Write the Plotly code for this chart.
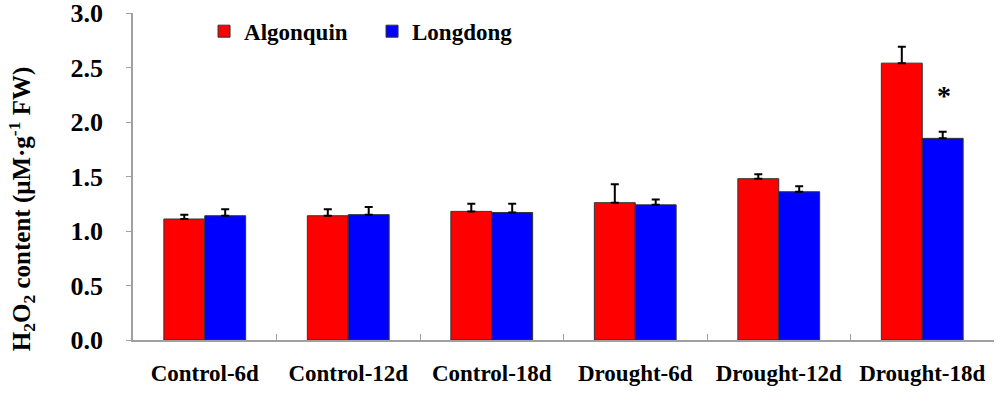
import plotly.graph_objects as go

categories = ["Control-6d", "Control-12d", "Control-18d", "Drought-6d", "Drought-12d", "Drought-18d"]
algonquin = [1.11, 1.14, 1.18, 1.26, 1.48, 2.54]
algonquin_err = [0.04, 0.06, 0.07, 0.17, 0.04, 0.15]
longdong = [1.14, 1.15, 1.17, 1.24, 1.36, 1.85]
longdong_err = [0.06, 0.07, 0.08, 0.05, 0.05, 0.06]
series_names = ["Algonquin", "Longdong"]
y_ticks = [0.0, 0.5, 1.0, 1.5, 2.0, 2.5, 3.0]
y_title = "H<sub>2</sub>O<sub>2</sub> content (μM·g<sup>-1</sup> FW)"
star_label = "*"
star_y = 2.24

FONT = "Liberation Serif"

fig = go.Figure()
for name, vals, errs, color in [
    (series_names[0], algonquin, algonquin_err, "#ff0000"),
    (series_names[1], longdong, longdong_err, "#0000ff"),
]:
    fig.add_trace(go.Bar(
        x=categories, y=vals, name=name,
        marker=dict(color=color, line=dict(color="#333333", width=1)),
        error_y=dict(type="data", array=errs, arrayminus=[0] * len(errs),
                     symmetric=False, color="black", thickness=2, width=4),
    ))

fig.add_annotation(x=categories[-1], y=star_y, text=star_label,
                   xref="x", yref="y", showarrow=False, xshift=22,
                   font=dict(family=FONT, size=28, color="black", weight="bold"))

# y-axis title as rotated annotation (placed lower than centre, as in the reference)
fig.add_annotation(x=-0.129, y=0.40, xref="paper", yref="paper", text=y_title,
                   textangle=-90, showarrow=False, xanchor="center", yanchor="middle",
                   font=dict(family=FONT, size=25, color="black", weight="bold"))

fig.update_layout(
    width=1000, height=399,
    margin=dict(l=133, r=6, t=13, b=59, autoexpand=False),
    paper_bgcolor="white", plot_bgcolor="white",
    barmode="group", bargap=0.43, bargroupgap=0,
    font=dict(family=FONT, color="black"),
    legend=dict(orientation="h", x=0.0825, y=1.01, xanchor="left", yanchor="top",
                font=dict(family=FONT, size=23, color="black", weight="bold"),
                bgcolor="rgba(0,0,0,0)", itemwidth=30, tracegroupgap=0,
                entrywidth=123, entrywidthmode="pixels"),
    showlegend=True,
)
fig.update_xaxes(
    automargin=False,
    showline=True, linecolor="#a0a0a0", linewidth=1.5,
    ticks="inside", tickson="boundaries", ticklen=6, tickcolor="#a0a0a0",
    tickfont=dict(family=FONT, size=23, color="black", weight="bold"),
    ticklabelstandoff=12, ticklabeloverflow="allow",
    showgrid=False, mirror=False,
)
fig.update_yaxes(
    automargin=False,
    range=[0, 3.0], tickvals=y_ticks, ticktext=["%.1f" % v for v in y_ticks],
    showline=True, linecolor="#a0a0a0", linewidth=1.5,
    ticks="outside", ticklen=5, tickcolor="#a0a0a0",
    tickfont=dict(family=FONT, size=26, color="black", weight="bold"),
    ticklabelstandoff=18, ticklabeloverflow="allow",
    showgrid=False, zeroline=False,
)

fig.write_html("out.html", config={"displayModeBar": False},
               post_script="document.body.style.margin='0';")
